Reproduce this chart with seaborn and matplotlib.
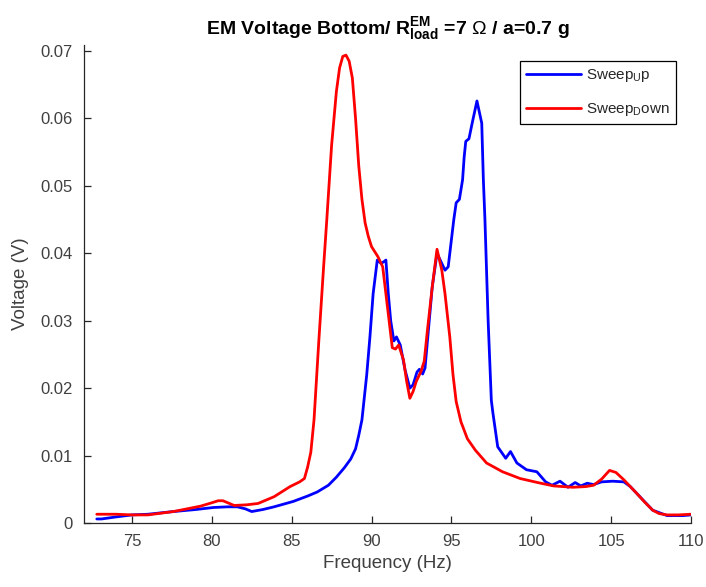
import numpy as np
import pandas as pd
import matplotlib
matplotlib.use('Agg')
import matplotlib.pyplot as plt
from matplotlib.ticker import FuncFormatter
import seaborn as sns

# Sweep up (blue)
freq_up = [72.8, 73.1, 74, 75, 76, 77.6, 79, 80.1, 81.0, 81.6,
           82.1, 82.5, 83.2, 83.9, 85.1, 86.0, 86.6, 87.3, 87.8, 88.3,
           88.7, 89.0, 89.2, 89.4, 89.7, 89.9, 90.1, 90.36, 90.6, 90.8,
           90.9, 91.05, 91.2, 91.4, 91.56, 91.8, 92.1, 92.4, 92.6, 92.85,
           93.0, 93.2, 93.35, 93.5, 93.8, 94.1, 94.3, 94.6, 94.8, 95.0,
           95.15, 95.3, 95.5, 95.7, 95.8, 95.9, 96.1, 96.3, 96.6, 96.9,
           97.0, 97.1, 97.3, 97.5, 97.6, 97.9, 98.4, 98.7, 99.1, 99.7,
           100.35, 100.9, 101.3, 101.8, 102.3, 102.75, 103.1, 103.5, 103.9, 104.4,
           105.1, 105.8, 106.2, 106.8, 107.6, 108.5, 109.5, 110.0]
volt_up = [0.0006, 0.0006, 0.0009, 0.0012, 0.0013, 0.0017, 0.0020, 0.0023, 0.0024, 0.0024,
           0.0021, 0.0017, 0.0020, 0.0024, 0.0032, 0.0040, 0.0046, 0.0056, 0.0068, 0.0082,
           0.0095, 0.011, 0.013, 0.0153, 0.022, 0.0276, 0.034, 0.039, 0.0385, 0.0388,
           0.039, 0.034, 0.030, 0.027, 0.0276, 0.0264, 0.0227, 0.020, 0.0205, 0.0224,
           0.0228, 0.0221, 0.023, 0.027, 0.035, 0.0400, 0.039, 0.0375, 0.038, 0.042,
           0.045, 0.0475, 0.048, 0.0509, 0.0543, 0.0566, 0.057, 0.0593, 0.0626, 0.0593,
           0.051, 0.045, 0.030, 0.0182, 0.0163, 0.0113, 0.0096, 0.0106, 0.0089, 0.0079,
           0.0076, 0.0061, 0.0056, 0.0062, 0.0053, 0.0060, 0.0055, 0.0059, 0.0057, 0.0061,
           0.0062, 0.0061, 0.0054, 0.0039, 0.0019, 0.0011, 0.0011, 0.0012]

# Sweep down (red)
freq_down = [72.8, 74, 75, 76, 77.6, 79.3, 80.0, 80.4, 80.7, 81.4,
             82.2, 82.9, 83.9, 84.9, 85.5, 85.8, 86.0, 86.2, 86.4, 86.7,
             87.0, 87.2, 87.5, 87.8, 88.0, 88.2, 88.4, 88.6, 88.8, 89.0,
             89.2, 89.4, 89.6, 89.8, 90.0, 90.4, 90.7, 91.0, 91.3, 91.5,
             91.7, 92.0, 92.2, 92.4, 92.6, 92.8, 93.1, 93.3, 93.5, 93.8,
             94.1, 94.4, 94.6, 94.9, 95.1, 95.3, 95.6, 96.0, 96.5, 97.2,
             98.2, 99.3, 100.4, 101.4, 102.6, 103.4, 103.9, 104.4, 104.9, 105.3,
             105.8, 106.2, 106.6, 107.1, 107.6, 108.0, 108.5, 109.2, 110.0]
volt_down = [0.0013, 0.0013, 0.0012, 0.0012, 0.0017, 0.0025, 0.0030, 0.0033, 0.0033, 0.0026,
             0.0027, 0.0029, 0.0039, 0.0054, 0.0061, 0.0066, 0.0083, 0.0105, 0.0153, 0.027,
             0.038, 0.045, 0.056, 0.064, 0.0675, 0.0692, 0.0694, 0.0685, 0.066, 0.060,
             0.053, 0.048, 0.0445, 0.0425, 0.041, 0.0395, 0.038, 0.032, 0.026, 0.0258,
             0.0264, 0.0242, 0.021, 0.0185, 0.0195, 0.021, 0.0225, 0.024, 0.0286, 0.035,
             0.0406, 0.0375, 0.034, 0.0276, 0.022, 0.018, 0.015, 0.0125, 0.0108, 0.0089,
             0.0076, 0.0066, 0.006, 0.0055, 0.0053, 0.0054, 0.0056, 0.0065, 0.0078, 0.0075,
             0.0064, 0.0054, 0.0044, 0.0031, 0.0019, 0.0014, 0.0012, 0.0012, 0.0013]

label_up = r'Sweep$_\mathrm{U}$p'
label_down = r'Sweep$_\mathrm{D}$own'
x_ticks = [75, 80, 85, 90, 95, 100, 105, 110]
y_ticks = [0, 0.01, 0.02, 0.03, 0.04, 0.05, 0.06, 0.07]

df = pd.concat([
    pd.DataFrame({'freq': freq_up, 'volt': volt_up, 'sweep': label_up}),
    pd.DataFrame({'freq': freq_down, 'volt': volt_down, 'sweep': label_down}),
], ignore_index=True)

sns.set_theme(style='ticks')
plt.rcParams['font.family'] = ['Liberation Sans', 'DejaVu Sans']
plt.rcParams['mathtext.fontset'] = 'custom'
plt.rcParams['mathtext.rm'] = 'Liberation Sans'
plt.rcParams['mathtext.bf'] = 'Liberation Sans:bold'
plt.rcParams['mathtext.it'] = 'Liberation Sans:italic'

fig = plt.figure(figsize=(7.06, 5.87), dpi=100)
ax = fig.add_axes([84/706, 1 - 523/587, (691 - 84)/706, (523 - 45)/587])

sns.lineplot(data=df, x='freq', y='volt', hue='sweep',
             palette={label_up: '#0000ff', label_down: '#ff0000'},
             sort=False, estimator=None, linewidth=2, ax=ax)

ax.set_xlim(72, 110)
ax.set_ylim(0, 0.0709)
ax.set_xticks(x_ticks)
ax.set_yticks(y_ticks)
ax.yaxis.set_major_formatter(FuncFormatter(lambda v, _: '0' if v == 0 else f'{v:.2f}'))

for s in ['top', 'right']:
    ax.spines[s].set_visible(False)
for s in ['left', 'bottom']:
    ax.spines[s].set_color('0.15')
    ax.spines[s].set_linewidth(0.9)
ax.tick_params(direction='in', length=5, width=0.9, color='0.15',
               labelcolor='0.25', labelsize=12, pad=8)

ax.set_xlabel('Frequency (Hz)', fontsize=13.5, color='0.25', labelpad=4)
ax.set_ylabel('Voltage (V)', fontsize=13.5, color='0.25', labelpad=8)
ax.set_title(r'EM Voltage Bottom/ R$^{\mathbf{EM}}_{\mathbf{load}}$ =7 $\Omega$ / a=0.7 g',
             fontsize=14, fontweight='bold', color='black', pad=8)

leg = ax.legend(loc='upper right', bbox_to_anchor=(1 - 15/607, 1 - 16/478),
                borderaxespad=0, frameon=True, fancybox=False, framealpha=1,
                edgecolor='black', fontsize=11, handlelength=3.6,
                handletextpad=0.3, labelspacing=1.1, title=None)
leg.get_frame().set_linewidth(0.9)

plt.savefig('out.png', dpi=100, facecolor='white')
